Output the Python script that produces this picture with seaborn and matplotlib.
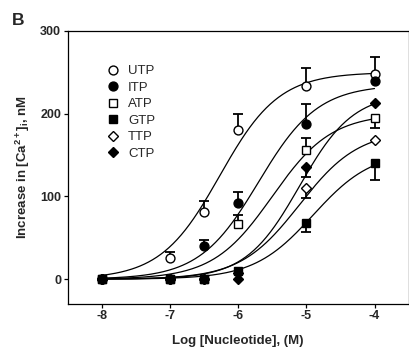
import numpy as np
import pandas as pd
import matplotlib
matplotlib.use('Agg')
import matplotlib.pyplot as plt
from matplotlib.lines import Line2D
import seaborn as sns

nucleotides = ['UTP', 'ITP', 'ATP', 'GTP', 'TTP', 'CTP']
log_conc = [-8, -7, -6.5, -6, -5, -4]
response = {
    'UTP': [0, 25, 81, 180, 233, 248],
    'ITP': [0, 0, 40, 92, 188, 240],
    'ATP': [0, 0, 0, 67, 156, 195],
    'GTP': [0, 0, 0, 10, 68, 140],
    'TTP': [0, 0, 0, 7, 110, 168],
    'CTP': [0, 0, 0, 0, 136, 213],
}
# SEM, sign gives the drawn direction (+ up, - down), 0 = none
sem = {
    'UTP': [0, 8, 14, 20, 22, 21],
    'ITP': [0, 0, 7, 13, 24, 0],
    'ATP': [0, 0, 0, 10, 15, -12],
    'GTP': [0, 0, 0, 0, -11, -20],
    'TTP': [0, 0, 0, 0, -12, 0],
    'CTP': [0, 0, 0, 0, -12, 0],
}
# logistic fits (top, logEC50, hill)
fit_top = {'UTP': 250, 'ITP': 235, 'ATP': 200, 'GTP': 155, 'TTP': 180, 'CTP': 225}
fit_logec50 = {'UTP': -6.27, 'ITP': -5.7, 'ATP': -5.5, 'GTP': -4.9, 'TTP': -5.1, 'CTP': -5.1}
fit_hill = {'UTP': 1.0, 'ITP': 1.0, 'ATP': 1.0, 'GTP': 1.0, 'TTP': 1.0, 'CTP': 1.1}

markers = {'UTP': 'o', 'ITP': 'o', 'ATP': 's', 'GTP': 's', 'TTP': 'D', 'CTP': 'D'}
filled = {'UTP': False, 'ITP': True, 'ATP': False, 'GTP': True, 'TTP': False, 'CTP': True}
msize = {'o': 6.4, 's': 6.2, 'D': 5.0}
zorders = {'UTP': 3, 'ITP': 5, 'ATP': 3.5, 'GTP': 6, 'TTP': 4, 'CTP': 5.5}

sns.set_theme(style='white')
plt.rcParams['font.family'] = ['Liberation Sans', 'DejaVu Sans']
plt.rcParams['mathtext.fontset'] = 'custom'
plt.rcParams['mathtext.rm'] = 'Liberation Sans:bold'
plt.rcParams['mathtext.bf'] = 'Liberation Sans:bold'
plt.rcParams['mathtext.it'] = 'Liberation Sans:bold'

fig = plt.figure(figsize=(4.09, 3.51), dpi=100)
ax = fig.add_axes([0.1655, 0.134, 0.8335, 0.7777])

xs = np.linspace(-8, -4, 200)
for n in nucleotides:
    curve = pd.DataFrame({
        'x': xs,
        'y': fit_top[n] / (1 + 10 ** ((fit_logec50[n] - xs) * fit_hill[n])),
    })
    sns.lineplot(data=curve, x='x', y='y', ax=ax, color='black', lw=0.9, zorder=2)

x = np.array(log_conc, dtype=float)
for n in nucleotides:
    y = np.array(response[n], dtype=float)
    e = np.array(sem[n], dtype=float)
    keep = e != 0
    if keep.any():
        # one-sided bars like the original: stem plus a cap at the far end
        ax.vlines(x[keep], y[keep], y[keep] + e[keep], color='black', lw=1.3,
                  zorder=zorders[n] - 0.5)
        ax.plot(x[keep], y[keep] + e[keep], ls='none', marker='_', ms=7, mew=1.3,
                color='black', zorder=zorders[n] - 0.5)
    m = markers[n]
    ax.plot(x, y, ls='none', marker=m, ms=msize[m],
            mfc='black' if filled[n] else 'white', mec='black', mew=1.0,
            zorder=zorders[n])

ax.set_xlim(-8.5, -3.5)
ax.set_ylim(-30, 300)
ax.set_xticks([-8, -7, -6, -5, -4])
ax.set_yticks([0, 100, 200, 300])
ax.set_xticklabels(['-8', '-7', '-6', '-5', '-4'])
for s in ax.spines.values():
    s.set_color('black')
    s.set_linewidth(0.9)
ax.tick_params(axis='both', direction='out', length=3.2, width=0.9, color='black',
               labelsize=9, pad=1.5, bottom=True, left=True)
for lab in ax.get_xticklabels() + ax.get_yticklabels():
    lab.set_fontweight('bold')
ax.set_xlabel('Log [Nucleotide], (M)', fontsize=9.5, fontweight='bold', labelpad=9)
ax.set_ylabel(r'Increase in [Ca$^{2+}$]$_{i}$, nM', fontsize=9.5, fontweight='bold', labelpad=6)

handles = []
for n in nucleotides:
    m = markers[n]
    handles.append(Line2D([], [], ls='none', marker=m, ms=msize[m],
                          mfc='black' if filled[n] else 'white', mec='black', mew=1.0))
ax.legend(handles, nucleotides, loc='upper left', bbox_to_anchor=(0.115, 0.875),
          frameon=False, fontsize=9.5, handlelength=1.0, handletextpad=0.6,
          labelspacing=0.32, borderpad=0, borderaxespad=0)

fig.text(0.03, 0.93, 'B', fontsize=12.5, fontweight='bold')

fig.savefig('out.png', dpi=100)
